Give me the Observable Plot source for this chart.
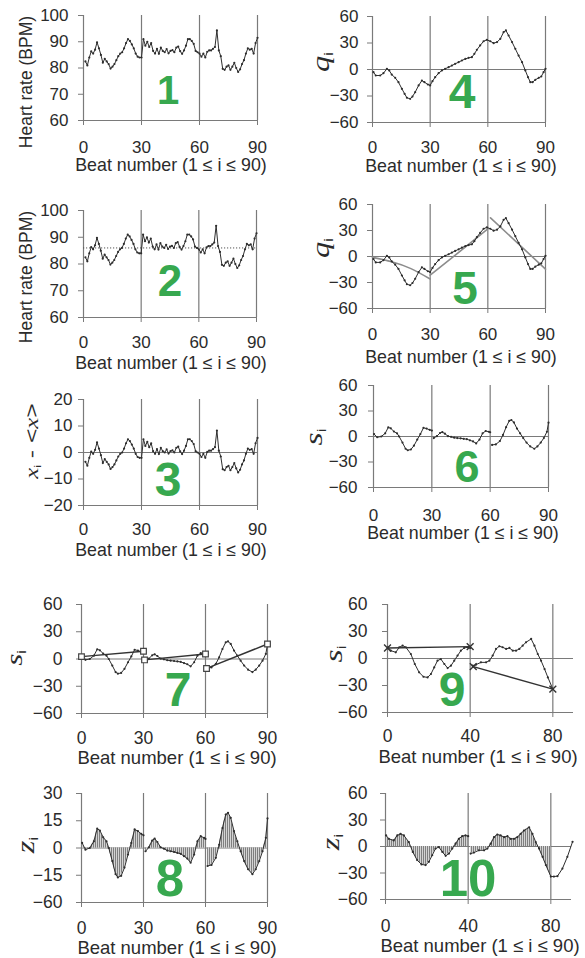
<!DOCTYPE html>
<html><head><meta charset="utf-8">
<script src="https://cdn.jsdelivr.net/npm/d3@7"></script>
<script src="https://cdn.jsdelivr.net/npm/@observablehq/plot@0.6"></script>
<style>
body{margin:0;background:#fff;}
#wrap{position:relative;width:585px;height:958px;overflow:hidden;background:#fff;font-family:"Liberation Sans",Arial,sans-serif;}
.lbl{position:absolute;white-space:nowrap;color:#2b2b2b;line-height:1;}
.it{font-family:"Liberation Serif","DejaVu Serif",serif;font-style:italic;}
.sb{font-family:"Liberation Sans",Arial,sans-serif;font-size:0.5em;position:relative;top:0.3em;font-style:normal;}
svg g[aria-label="x-axis tick"], svg g[aria-label="y-axis tick"]{stroke:#7a7a7a;}
svg g[aria-label="x-axis"] .tick line, svg g[aria-label="y-axis"] .tick line{stroke:#7a7a7a;}
</style></head><body><div id="wrap"></div>
<script>
// ---------- data ----------
const beats = d3.range(1, 91);
const hr = [82.5, 81, 84, 86.3, 85.5, 87, 89.8, 87.5, 85, 82,
  83.5, 82.5, 81.5, 79.8, 80.5, 81.5, 83, 84.5, 85.5, 86,
  87.5, 89.5, 91, 90.3, 89, 87.5, 85.5, 84.3, 84, 84,
  91, 88.5, 90, 88, 89.5, 86.5, 85.5, 87.3, 85.4, 87.8,
  86.5, 86, 87.2, 85.6, 86.5, 86.8, 86, 87.8, 88.2, 86.4,
  85.4, 86.7, 88.5, 91, 91, 90.3, 89.2, 86.5, 86, 85.5,
  84.3, 85.5, 84, 86.2, 86.7, 86.7, 87.3, 88, 94.3, 86.7,
  84.5, 79.7, 79.3, 80.5, 81, 79.3, 80.5, 82, 80, 78.5,
  79.5, 81.5, 83, 85.5, 87.5, 87, 87.3, 85.5, 89.5, 91.5];
const meanHR = 86;

const qBeat = [0.5,1.7,4,5.7,7.5,8.7,10,11.8,13.5,15.3,16.7,17.9,19.6,20.8,22.2,24,25.7,27,28.8,30,
  31.2,32.6,34.4,36.1,37.8,39.6,41.3,43,44.8,46.5,48.3,50,51.7,53,54.3,56,57.8,59.5,61.3,63,
  64.8,66.5,68.2,69.4,70.8,72.6,74.3,76,77.8,79.5,80.9,82.1,83.3,84.7,86.5,87.8,89,90];
const qVal = [-3,-6.8,-6.8,-4.2,0.8,-1.1,-5.7,-9.4,-14.3,-21.9,-27.5,-32,-33.2,-30.6,-25.7,-18,-12.5,-14.3,-17,-18,
  -13.2,-8.7,-4.2,-1.1,0.8,2.6,4.5,6.4,8.3,10.2,12,13.2,14,17.7,22.3,27.2,32,33.6,32,29.8,
  31,34.7,42.3,44.2,38.5,31,23.4,15.8,8.3,-1.1,-8.7,-14.3,-14.3,-11.7,-9.4,-7.9,-3,0.8];

const trendBeat = [0, 10, 20, 30, 30, 45, 60, 61.4, 90];
const trendVal = [-1, -6, -14, -26, -21.5, 5, 32, 44.6, -14.6];
const trendWin = [0, 0, 0, 0, 1, 1, 1, 2, 2];

const sBeat = [0.3,1.9,4,6,7.6,8.9,10.5,12.1,13.2,14.9,16.5,17.6,19.2,20.8,22.5,24.1,25.7,27.3,28.9,30,
  31,32.6,34.2,35.4,36.7,38.3,39.9,41.5,43.1,44.8,46.4,48,49.6,51.2,52.8,54.5,56.1,57.7,59.3,60,
  61,62.9,65,66.6,68.2,69.8,70.9,72.2,73.8,75.4,77,78.7,80.6,82.7,84.3,86,87.6,89.2,90];
const sVal = [2.8,-0.9,0,3.7,10.7,9.6,5.9,3.7,0,-7.2,-14.4,-16.2,-15.3,-10.8,-3.6,2.8,10.2,9.3,7.8,7,
  -1.8,0.4,4.1,5.2,3.3,0.4,-0.4,-1.4,-1.8,-2.2,-2.7,-3.2,-4.5,-5.8,-8.1,-3.6,3.7,6.5,5.6,5,
  -9.9,-9.3,-5.4,1.8,11,18.4,19.4,16.6,9.3,3.7,-1.8,-7.2,-11.7,-14.4,-11.7,-7.2,-1.8,5.6,16.3];

const s40Beat = [0.3,1.6,4,5.7,7.3,8.9,11.3,13.2,15.3,17.4,19.4,21,22.6,24.2,25.8,27.5,29.1,30.7,32.3,33.9,
  35.5,37.1,38.7,40,41.2,42.8,45.2,47.7,49.3,50.9,52.5,54.1,55.7,57.4,59,60.6,62.2,63.8,65.4,67,
  69.5,71.1,72.7,74.3,76,77.6,80,81.5,83.2,85.6,88,90.5];
const s40Val = [12.5,8.7,6.9,12.5,14.3,12.5,5,-6.1,-15.4,-20.3,-21,-17.3,-9.9,-2.4,-0.6,-6.1,-10.6,-8,-2.4,3.2,
  8.7,11.7,12.5,11.7,-8,-6.9,-4.3,-4.3,-2.4,3.2,10.6,13.6,12.5,10.6,11.7,8.7,8.7,10.6,14.3,18,
  21.7,14.3,5,-2.4,-11.7,-21,-34,-34,-33.6,-25,-11.7,5.3];

const boxBeat = [0, 30, 30.5, 60, 60.5, 90];
const boxVal = [2.6, 8.5, -1, 5.5, -10.4, 16.5];
const boxSeg = [0, 0, 1, 1, 2, 2];

const crossBeat = [0, 40, 41.5, 80];
const crossVal = [11.7, 13.2, -9.1, -34];
const crossSeg = [0, 0, 1, 1];

const xTicks90 = [0, 30, 60, 90];
const xTicks40 = [0, 40, 80];
const yTicksHR = [60, 70, 80, 90, 100];
const yTicksDev = [-20, -10, 0, 10, 20];
const yTicks60 = [-60, -30, 0, 30, 60];
const yTicksZ = [-30, -15, 0, 15, 30];
const yTickLabelsZ = ["\u221260", "\u221215", "0", "15", "30"];
const panelNumbers = ["1","2","3","4","5","6","7","8","9","10"];
const xTitle = "Beat number (1 \u2264 i \u2264 90)";
const hrTitle = "Heart rate (BPM)";

// ---------- tables ----------
const hrRows = beats.map((b, i) => ({x: b, y: hr[i]}));
const qRows = qBeat.map((b, i) => ({x: b, y: qVal[i]}));
const trendRows = trendBeat.map((b, i) => ({x: b, y: trendVal[i], w: trendWin[i]}));
const sRows = sBeat.map((b, i) => ({x: b, y: sVal[i], w: b <= 30 ? 0 : b <= 60 ? 1 : 2}));
const s40Rows = s40Beat.map((b, i) => ({x: b, y: s40Val[i], w: b <= 40 ? 0 : 1}));
const boxRows = boxBeat.map((b, i) => ({x: b, y: boxVal[i], w: boxSeg[i]}));
const crossRows = crossBeat.map((b, i) => ({x: b, y: crossVal[i], w: crossSeg[i]}));

const INK = "#2e2e2e", GRID = "#7a7a7a", GREEN = "#37a84f";
const wrap = document.getElementById("wrap");
const minusFmt = d => d < 0 ? "\u2212" + (-d) : String(d);

function curve(rows, extra = {}) {
  return [
    Plot.line(rows, {x: "x", y: "y", z: "w", stroke: INK, strokeWidth: 1, ...extra}),
    Plot.dot(rows, {x: "x", y: "y", r: 1.1, fill: INK, stroke: "none"})
  ];
}

function makePanel(p) {
  const ml = 70, mr = 8, mt = 6, mb = 42;
  const w = p.R - p.L + ml + mr, h = p.B - p.T + mt + mb;
  const marks = [
    Plot.ruleX(p.grid, {stroke: GRID, strokeWidth: 1.2}),
    Plot.ruleY([p.yDomain[0]], {stroke: GRID, strokeWidth: 1.2}),
    ...(p.zero ? [Plot.ruleY([0], {stroke: GRID, strokeWidth: 1.2})] : []),
    ...p.marks
  ];
  const svg = Plot.plot({
    width: w, height: h, marginLeft: ml, marginRight: mr, marginTop: mt, marginBottom: mb,
    style: {fontFamily: "'Liberation Sans', Arial, sans-serif", fontSize: p.fs + "px", color: "#2b2b2b",
            background: "transparent", overflow: "visible"},
    x: {domain: [0, 90], ticks: p.xTicks, tickSize: 5, tickPadding: p.xPad, tickFormat: d => String(d), label: null},
    y: {domain: p.yDomain, ticks: p.yTicks, tickSize: 5, tickPadding: p.yPad, tickFormat: p.yFmt || minusFmt, label: null},
    marks
  });
  svg.style.position = "absolute";
  svg.style.left = (p.L - ml) + "px";
  svg.style.top = (p.T - mt) + "px";
  wrap.appendChild(svg);
  return svg;
}

function hatch(svg, id) {
  const ns = "http://www.w3.org/2000/svg";
  const defs = document.createElementNS(ns, "defs");
  defs.innerHTML = `<pattern id="${id}" patternUnits="userSpaceOnUse" width="2" height="4"><rect x="0" y="0" width="2" height="4" fill="#d4d4d4"/><rect x="0" y="0" width="0.8" height="4" fill="#6a6a6a"/></pattern>`;
  svg.insertBefore(defs, svg.firstChild);
  svg.querySelectorAll('[fill="#fe01fe"]').forEach(el => el.setAttribute("fill", `url(#${id})`));
}

const hatchArea = rows => Plot.areaY(rows, {x: "x", y1: 0, y2: "y", z: "w", fill: "#fe01fe", stroke: "none"});

// ---------- panels ----------
makePanel({L: 83, R: 257, T: 15, B: 120, yDomain: [60, 100], yTicks: yTicksHR, xTicks: xTicks90, grid: xTicks90,
  zero: false, xPad: 15, yPad: 10, fs: 17, marks: curve(hrRows)});
makePanel({L: 83, R: 256, T: 210, B: 317, yDomain: [60, 100], yTicks: yTicksHR, xTicks: xTicks90, grid: xTicks90,
  zero: false, xPad: 13, yPad: 10, fs: 17,
  marks: [Plot.ruleY([meanHR], {stroke: "#555", strokeWidth: 1, strokeDasharray: "1.2,1.8"}), ...curve(hrRows)]});
makePanel({L: 83, R: 257, T: 399, B: 505, yDomain: [-20, 20], yTicks: yTicksDev, xTicks: xTicks90, grid: xTicks90,
  zero: true, xPad: 12.5, yPad: 6, fs: 17,
  marks: [Plot.line(hrRows, {x: "x", y: d => d.y - meanHR, stroke: INK, strokeWidth: 1}),
          Plot.dot(hrRows, {x: "x", y: d => d.y - meanHR, r: 1.1, fill: INK, stroke: "none"})]});
makePanel({L: 372, R: 545, T: 16, B: 122, yDomain: [-60, 60], yTicks: yTicks60, xTicks: xTicks90, grid: xTicks90,
  zero: true, xPad: 13, yPad: 9, fs: 17, marks: curve(qRows)});
makePanel({L: 372, R: 545, T: 204, B: 308, yDomain: [-60, 60], yTicks: yTicks60, xTicks: xTicks90, grid: xTicks90,
  zero: true, xPad: 14, yPad: 10, fs: 17,
  marks: [Plot.line(trendRows, {x: "x", y: "y", z: "w", stroke: "#8c8c8c", strokeWidth: 1.6, curve: "natural"}), ...curve(qRows)]});
makePanel({L: 373, R: 548, T: 385, B: 487, yDomain: [-60, 60], yTicks: yTicks60, xTicks: xTicks90, grid: xTicks90,
  zero: true, xPad: 16, yPad: 11, fs: 17, marks: curve(sRows)});
makePanel({L: 81, R: 267, T: 604, B: 713, yDomain: [-60, 60], yTicks: yTicks60, xTicks: xTicks90, grid: xTicks90,
  zero: true, xPad: 13.5, yPad: 14, fs: 17.5,
  marks: [...curve(sRows),
    Plot.line(boxRows, {x: "x", y: "y", z: "w", stroke: "#333", strokeWidth: 1.4}),
    Plot.dot(boxRows, {x: "x", y: "y", symbol: "square", r: 3.2, fill: "white", stroke: "#444", strokeWidth: 1.2})]});
const p8 = makePanel({L: 81, R: 267, T: 793, B: 902, yDomain: [-30, 30], yTicks: yTicksZ, xTicks: xTicks90, grid: xTicks90,
  zero: true, xPad: 14.5, yPad: 14, fs: 17.5, yFmt: d => yTickLabelsZ[yTicksZ.indexOf(d)],
  marks: [hatchArea(sRows), ...curve(sRows)]});
hatch(p8, "hatch8");
makePanel({L: 387, R: 573, T: 604, B: 712, yDomain: [-60, 60], yTicks: yTicks60, xTicks: xTicks40, grid: xTicks40,
  zero: true, xPad: 12.5, yPad: 15, fs: 17.5,
  marks: [...curve(s40Rows.filter(d => d.x <= 80)),
    Plot.line(crossRows, {x: "x", y: "y", z: "w", stroke: "#333", strokeWidth: 1.4}),
    Plot.dot(crossRows, {x: "x", y: "y", symbol: "times", r: 3.2, stroke: "#333", strokeWidth: 1.4})]});
const p10 = makePanel({L: 385, R: 571, T: 793, B: 899, yDomain: [-60, 60], yTicks: yTicks60, xTicks: xTicks40, grid: xTicks40,
  zero: true, xPad: 15.5, yPad: 13, fs: 17.5,
  marks: [hatchArea(s40Rows.filter(d => d.x <= 80)), ...curve(s40Rows)]});
hatch(p10, "hatch10");

// ---------- text ----------
function addLabel(html, cx, cy, css, transform) {
  const d = document.createElement("div");
  d.className = "lbl";
  d.innerHTML = html;
  d.style.left = cx + "px";
  d.style.top = cy + "px";
  Object.assign(d.style, css || {});
  d.style.transform = "translate(-50%,-50%) " + (transform || "");
  wrap.appendChild(d);
}
const sym = c => `<span class="it">${c}</span><span class="sb">i</span>`;
const devLabel = `<span class="it">x</span><span class="sb">i</span> - &lt;<span class="it">x</span>&gt;`;
const rot = "rotate(-90deg)";
const rotS = "rotate(-90deg) scaleX(1.3)";

// y titles
addLabel(hrTitle, 27, 82, {fontSize: "17.5px"}, rot);
addLabel(hrTitle, 27, 277, {fontSize: "17.5px"}, rot);
addLabel(devLabel, 31, 441, {fontSize: "19px"}, rotS);
addLabel(sym("q"), 320, 62, {fontSize: "25px"}, rotS);
addLabel(sym("q"), 320, 248, {fontSize: "25px"}, rotS);
addLabel(sym("s"), 313, 437, {fontSize: "26px"}, rotS);
addLabel(sym("s"), 14, 658, {fontSize: "24px"}, rotS);
addLabel(sym("z"), 25, 845, {fontSize: "25px"}, rotS);
addLabel(sym("s"), 333, 654, {fontSize: "26px"}, rotS);
addLabel(sym("z"), 330, 842, {fontSize: "25px"}, rotS);

// x titles
const xt = [[171, 166, 17.8], [461, 167, 17.8], [171, 364, 17.8], [461, 358, 17.8], [171, 551, 17.8],
            [463, 534, 17.8], [177, 758, 18.5], [478, 757, 18.5], [177, 948, 18.5], [480, 946, 18.5]];
xt.forEach(([cx, cy, fs]) => addLabel(xTitle, cx, cy, {fontSize: fs + "px"}));

// panel numbers
const nums = [[168, 90, 40], [170, 281, 44], [168, 480, 48], [462, 92, 48], [465, 288, 46],
              [467, 466, 45], [178, 690, 48], [170, 878, 51], [452, 690, 48], [468, 878, 51]];
nums.forEach(([cx, cy, fs], i) => addLabel(panelNumbers[i], cx, cy,
  {fontSize: fs + "px", fontWeight: "bold", color: GREEN, fontFamily: "'Liberation Sans', Arial, sans-serif"}));
</script></body></html>
